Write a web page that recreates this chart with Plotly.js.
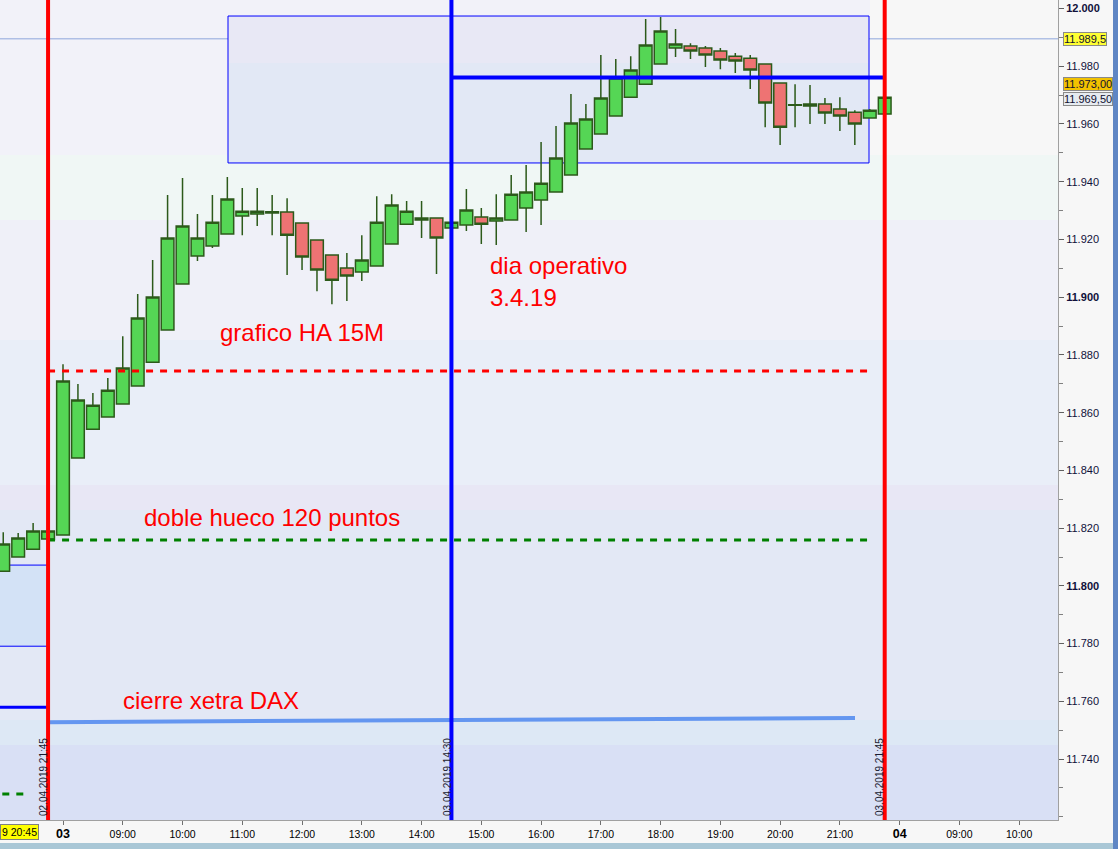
<!DOCTYPE html>
<html><head><meta charset="utf-8">
<script src="https://cdn.plot.ly/plotly-3.0.1.min.js"></script>
<style>html,body{margin:0;padding:0;background:#f7f7f7;}#chart{width:1118px;height:849px;}</style>
</head><body><div id="chart"></div>
<script>
// ---- time slots (15-minute Heikin-Ashi bars) ----
const day2Date = '02.04';
const day3Date = '03.04';
const day4Date = '04.04';
const day2Times = ['21:00','21:15','21:30','21:45'];
const day3Times = ['08:00','08:15','08:30','08:45','09:00','09:15','09:30','09:45','10:00','10:15','10:30','10:45',
  '11:00','11:15','11:30','11:45','12:00','12:15','12:30','12:45','13:00','13:15','13:30','13:45',
  '14:00','14:15','14:30','14:45','15:00','15:15','15:30','15:45','16:00','16:15','16:30','16:45',
  '17:00','17:15','17:30','17:45','18:00','18:15','18:30','18:45','19:00','19:15','19:30','19:45',
  '20:00','20:15','20:30','20:45','21:00','21:15','21:30','21:45'];
const day4Times = ['08:00','08:15','08:30','08:45','09:00','09:15','09:30','09:45','10:00','10:15','10:30','10:45'];

// ---- candle values (02.04 21:00 .. 03.04 21:45) ----
const haOpen = [11805.1,11810.0,11812.7,11816.2,
  11817.6,11844.3,11854.3,11858.5,11863.0,11869.2,11877.5,11888.6,11904.6,11914.3,11917.7,11921.9,
  11928.1,11928.8,11929.2,11929.5,11925.7,11919.8,11914.6,11910.1,11908.7,11910.8,11918.4,11925.3,
  11926.7,11927.4,11924.0,11925.0,11927.8,11926.4,11926.7,11930.9,11933.7,11936.4,11942.3,11951.3,
  11956.5,11962.8,11969.3,11973.8,11980.8,11986.3,11987.0,11986.3,11985.3,11983.5,11982.8,11980.8,
  11974.2,11966.5,11966.2,11966.9,11965.2,11964.1,11962.1,11963.5];
const haHigh = [11818.6,11818.3,11821.8,11819.0,
  11876.8,11869.9,11866.8,11872.0,11886.5,11901.1,11912.9,11935.4,11941.3,11928.8,11935.4,11941.6,
  11937.8,11937.8,11935.4,11934.3,11925.7,11919.8,11914.6,11915.3,11921.5,11935.0,11935.7,11933.3,
  11933.3,11927.4,11926.0,11937.5,11930.9,11935.7,11942.3,11945.8,11953.8,11959.3,11970.4,11966.9,
  11983.9,11982.5,11983.5,11996.4,11997.1,11992.9,11988.0,11987.0,11986.3,11984.6,11983.9,11980.8,
  11974.2,11973.8,11973.5,11969.0,11969.3,11964.8,11965.2,11969.3];
const haLow = [11805.1,11810.0,11812.7,11816.2,
  11817.6,11844.3,11854.3,11858.5,11863.0,11869.2,11877.5,11888.6,11904.6,11912.5,11917.0,11921.9,
  11921.5,11924.7,11921.5,11907.7,11909.4,11902.1,11897.6,11898.7,11905.6,11910.8,11918.4,11925.3,
  11920.5,11908.0,11924.0,11922.9,11918.4,11918.1,11926.7,11922.6,11925.0,11936.4,11942.3,11951.3,
  11956.5,11962.8,11969.3,11973.8,11980.8,11983.2,11982.5,11979.7,11979.0,11977.7,11972.1,11958.9,
  11952.7,11958.9,11960.0,11960.0,11957.6,11952.7,11962.1,11963.5];
const haClose = [11814.5,11816.6,11819.0,11819.0,
  11871.0,11864.4,11862.6,11867.8,11875.5,11892.8,11900.1,11920.5,11924.7,11920.5,11926.0,11934.0,
  11929.8,11929.8,11929.6,11921.5,11913.9,11909.4,11905.9,11907.3,11912.9,11926.0,11931.9,11929.8,
  11927.4,11920.5,11926.0,11930.2,11925.3,11927.4,11935.7,11936.4,11939.5,11948.2,11960.3,11961.7,
  11969.0,11975.9,11978.7,11987.4,11992.2,11987.7,11985.3,11983.9,11982.2,11981.8,11978.7,11967.3,
  11958.9,11966.7,11966.9,11963.8,11962.8,11960.0,11964.8,11969.3];

// ---- drawn levels ----
const lastPriceLevel = 11989.5;
const haLineLevel = 11874.4;
const gapLineLevel = 11815.9;
const prevGapLevel = 11727.9;
const prevBlueLevel = 11758.0;
const xetraCloseStart = 11752.8;
const xetraCloseEnd = 11754.2;
const dayHighZoneTop = 11997.4;
const dayHighZoneMid = 11981.1;
const dayHighZoneBottom = 11946.5;
const operativeLevel = 11976.1;
const prevZoneTop = 11807.2;
const prevZoneBottom = 11779.1;

// ---- axis ticks ----
const yTickVals = [11740,11760,11780,11800,11820,11840,11860,11880,11900,11920,11940,11960,11980,12000];
const yTickText = ['11.740','11.760','11.780','11.800','11.820','11.840','11.860','11.880','11.900','11.920','11.940','11.960','11.980','12.000'];
const xTickSlots = ['03.04 08:00','03.04 09:00','03.04 10:00','03.04 11:00','03.04 12:00','03.04 13:00','03.04 14:00',
  '03.04 15:00','03.04 16:00','03.04 17:00','03.04 18:00','03.04 19:00','03.04 20:00','03.04 21:00',
  '04.04 08:00','04.04 09:00','04.04 10:00'];
const xTickText = ['03','09:00','10:00','11:00','12:00','13:00','14:00','15:00','16:00','17:00','18:00','19:00','20:00','21:00','04','09:00','10:00'];
const dayLabels = ['03','04'];

// ---- build ----
const slots = [].concat(day2Times.map(t=>day2Date+' '+t), day3Times.map(t=>day3Date+' '+t), day4Times.map(t=>day4Date+' '+t));
const slotIdx = s => slots.indexOf(s);
const candleSlots = [].concat(day2Times.map(t=>day2Date+' '+t), day3Times.map(t=>day3Date+' '+t));
const xs = candleSlots.map(slotIdx);

const plotW = 1058, plotH = 820;
const px = x => x / plotW;
const py = y => 1 - y / plotH;
// pixel -> slot position helper for layout geometry
const xAtPx = p => 4 + (p - 63) / 14.94;

const trace = {
  type: 'candlestick', x: xs, open: haOpen, high: haHigh, low: haLow, close: haClose,
  increasing: {line: {color: '#2c5a1a', width: 1.5}, fillcolor: '#55d655'},
  decreasing: {line: {color: '#2c5a1a', width: 1.5}, fillcolor: '#ee7373'},
  whiskerwidth: 0, hoverinfo: 'skip', showlegend: false
};

const shapes = [];
const bands = [[0,155,'#f2f2f9'],[155,220,'#f0f7f5'],[220,340,'#eff0f8'],[340,485,'#e9eef8'],[485,510,'#e8e7f5'],[510,720,'#e3e8f5'],[720,745,'#dde8f5'],[745,820,'#d9e0f5']];
bands.forEach(b => shapes.push({type:'rect', xref:'paper', yref:'paper', x0:0, x1:1, y0:py(b[1]), y1:py(b[0]), fillcolor:b[2], line:{width:0}, layer:'below'}));
shapes.push({type:'rect', xref:'paper', yref:'paper', x0:px(870), x1:1, y0:py(155), y1:1, fillcolor:'#f7f7f7', line:{width:0}, layer:'below'});
// day high zone box
const boxX0 = xAtPx(228), boxX1 = xAtPx(869);
shapes.push({type:'rect', xref:'x', yref:'y', x0:boxX0, x1:boxX1, y0:dayHighZoneMid, y1:dayHighZoneTop, fillcolor:'#e8e8f5', line:{width:0}, layer:'below'});
shapes.push({type:'rect', xref:'x', yref:'y', x0:boxX0, x1:boxX1, y0:dayHighZoneBottom, y1:dayHighZoneMid, fillcolor:'#e2e8f5', line:{width:0}, layer:'below'});
shapes.push({type:'rect', xref:'x', yref:'y', x0:boxX0, x1:boxX1, y0:dayHighZoneBottom, y1:dayHighZoneTop, fillcolor:'rgba(0,0,0,0)', line:{width:1, color:'#0000ff'}, layer:'below'});
// previous-day zone box
const redA = slotIdx('02.04 21:45'), blueV = slotIdx('03.04 14:30'), redB = slotIdx('03.04 21:45');
shapes.push({type:'rect', xref:'x', yref:'y', x0:-1, x1:redA, y0:prevZoneBottom, y1:prevZoneTop, fillcolor:'#d3e2f6', line:{width:0}, layer:'below'});
shapes.push({type:'line', xref:'x', yref:'y', x0:-1, x1:redA, y0:prevZoneTop, y1:prevZoneTop, line:{width:1, color:'#0000ff'}, layer:'below'});
shapes.push({type:'line', xref:'x', yref:'y', x0:-1, x1:redA, y0:prevZoneBottom, y1:prevZoneBottom, line:{width:1, color:'#0000ff'}, layer:'below'});
shapes.push({type:'line', xref:'paper', yref:'y', x0:0, x1:1, y0:lastPriceLevel, y1:lastPriceLevel, line:{width:1, color:'#8ea6dc'}, layer:'below'});
// level lines above candles
shapes.push({type:'line', xref:'x', yref:'y', x0:redA, x1:xAtPx(868), y0:haLineLevel, y1:haLineLevel, line:{width:3, color:'#ff0000', dash:'7px,7px'}});
shapes.push({type:'line', xref:'x', yref:'y', x0:redA, x1:xAtPx(868), y0:gapLineLevel, y1:gapLineLevel, line:{width:3, color:'#008000', dash:'7px,7px'}});
shapes.push({type:'line', xref:'x', yref:'y', x0:-1, x1:xAtPx(30), y0:prevGapLevel, y1:prevGapLevel, line:{width:3, color:'#008000', dash:'7px,7px'}});
shapes.push({type:'line', xref:'x', yref:'y', x0:-1, x1:redA, y0:prevBlueLevel, y1:prevBlueLevel, line:{width:3, color:'#0000ff'}});
shapes.push({type:'line', xref:'x', yref:'y', x0:redA, x1:xAtPx(855), y0:xetraCloseStart, y1:xetraCloseEnd, line:{width:4, color:'#6496f0'}});
shapes.push({type:'line', xref:'x', yref:'y', x0:blueV, x1:redB, y0:operativeLevel, y1:operativeLevel, line:{width:4, color:'#0000ff'}});
shapes.push({type:'line', xref:'x', yref:'paper', x0:redA, x1:redA, y0:0, y1:1, line:{width:4, color:'#ff0000'}});
shapes.push({type:'line', xref:'x', yref:'paper', x0:blueV, x1:blueV, y0:0, y1:1, line:{width:4, color:'#0000ff'}});
shapes.push({type:'line', xref:'x', yref:'paper', x0:redB, x1:redB, y0:0, y1:1, line:{width:4, color:'#ff0000'}});
// window frame strips
shapes.push({type:'rect', xref:'paper', yref:'paper', x0:px(1113), x1:px(1118), y0:py(849), y1:1, fillcolor:'#5f86c4', line:{width:0}});
shapes.push({type:'rect', xref:'paper', yref:'paper', x0:0, x1:px(1113), y0:py(849), y1:py(843), fillcolor:'#a9c7d6', line:{width:0}});

const redFont = {family:'Arial, Liberation Sans, sans-serif', size:24, color:'#ff0000'};
const annotations = [
  {text:'grafico HA 15M', x:px(302), y:py(332)},
  {text:'dia operativo', x:px(488), y:py(265), xanchor:'left'},
  {text:'3.4.19', x:px(488), y:py(297), xanchor:'left'},
  {text:'doble hueco 120 puntos', x:px(272), y:py(517)},
  {text:'cierre xetra DAX', x:px(211), y:py(700)}
].map(a => Object.assign({xref:'paper', yref:'paper', showarrow:false, font:redFont, xanchor:'center', yanchor:'middle'}, a));

const dateFont = {family:'Arial, Liberation Sans, sans-serif', size:10, color:'#1a1a30'};
[[43,'02.04.2019 21:45'],[447,'03.04.2019 14:30'],[879,'03.04.2019 21:45']].forEach(d => annotations.push({
  xref:'paper', yref:'paper', x:px(d[0]), y:py(777), text:d[1], textangle:-90, showarrow:false, font:dateFont, xanchor:'center', yanchor:'middle'}));

const tagFont = {family:'Arial, Liberation Sans, sans-serif', size:11, color:'#101030'};
annotations.push({xref:'paper', yref:'paper', x:px(1063), y:py(39), text:'11.989,5', showarrow:false, xanchor:'left', yanchor:'middle', bgcolor:'#ffff33', bordercolor:'#8a8a8a', borderwidth:1, borderpad:0, font:tagFont});
annotations.push({xref:'paper', yref:'paper', x:px(1063), y:py(84.5), text:'11.973,00', showarrow:false, xanchor:'left', yanchor:'middle', bgcolor:'#f2c200', bordercolor:'#8a8a8a', borderwidth:1, borderpad:0, font:tagFont});
annotations.push({xref:'paper', yref:'paper', x:px(1063), y:py(99), text:'11.969,50', showarrow:false, xanchor:'left', yanchor:'middle', bgcolor:'#e6ebf0', bordercolor:'#8a8a8a', borderwidth:1, borderpad:0, font:tagFont});
annotations.push({xref:'paper', yref:'paper', x:0, y:py(832), text:'9 20:45', showarrow:false, xanchor:'left', yanchor:'middle', bgcolor:'#ffff00', bordercolor:'#808080', borderwidth:1, borderpad:1, font:{family:'Arial, Liberation Sans, sans-serif', size:10.5, color:'#000000'}});

const xTickVals = xTickSlots.map(slotIdx);
const xTickLabels = xTickText.map(t => dayLabels.indexOf(t) >= 0 ? '<b><span style="font-size:12.5px">' + t + '</span></b>' : t);
const yTickLabels = yTickText.map((t,i) => yTickVals[i] % 100 === 0 ? '<b>' + t + '</b>' : t);

const layout = {
  width:1118, height:849,
  margin:{l:0, r:60, t:0, b:29, pad:0},
  paper_bgcolor:'#f7f7f7', plot_bgcolor:'#f2f2f9',
  showlegend:false, hovermode:false, boxgap:0.15, boxgroupgap:0,
  xaxis:{type:'linear', range:[xAtPx(0), xAtPx(1058)], rangeslider:{visible:false}, showgrid:false, zeroline:false,
    tickmode:'array', tickvals:xTickVals, ticktext:xTickLabels, ticks:'outside', ticklen:4, tickcolor:'#707070',
    showline:true, linecolor:'#a0a0a0', linewidth:1,
    tickfont:{family:'Arial, Liberation Sans, sans-serif', size:10.5, color:'#000000'}},
  yaxis:{side:'right', range:[11718.9, 12002.95], showgrid:false, zeroline:false,
    tickmode:'array', tickvals:yTickVals, ticktext:yTickLabels, ticks:'outside', ticklen:5, tickcolor:'#606060',
    minor:{tickmode:'linear', tick0:11730, dtick:10, ticklen:4, tickcolor:'#808080', showgrid:false},
    showline:true, linecolor:'#a0a0a0', linewidth:1,
    tickfont:{family:'Arial, Liberation Sans, sans-serif', size:11, color:'#10103a'}},
  shapes:shapes, annotations:annotations
};

Plotly.newPlot('chart', [trace], layout, {displayModeBar:false, staticPlot:true});
</script></body></html>
